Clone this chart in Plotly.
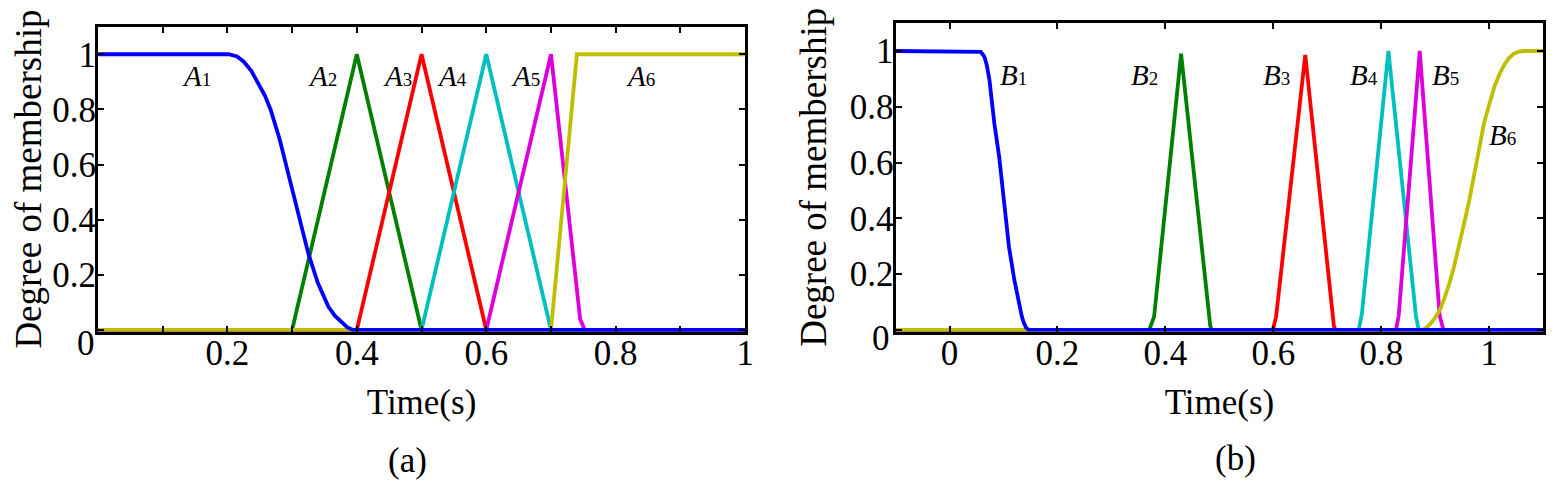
import plotly.graph_objects as go

# ---------------- data: panel (a) ----------------
A1_t = [0.0, 0.202, 0.215, 0.225, 0.237, 0.248, 0.258, 0.267, 0.281, 0.294, 0.310, 0.325, 0.340, 0.356, 0.366, 0.375, 0.385, 0.394, 1.0]
A1_v = [1.0, 1.0, 0.992, 0.974, 0.94, 0.895, 0.85, 0.798, 0.69, 0.568, 0.411, 0.278, 0.169, 0.085, 0.052, 0.030, 0.010, 0.0, 0.0]
A2_t = [0.0, 0.3, 0.4, 0.5, 1.0]
A2_v = [0.0, 0.0, 1.0, 0.0, 0.0]
A3_t = [0.0, 0.4, 0.5, 0.6, 1.0]
A3_v = [0.0, 0.0, 1.0, 0.0, 0.0]
A4_t = [0.0, 0.5, 0.6, 0.7, 1.0]
A4_v = [0.0, 0.0, 1.0, 0.0, 0.0]
A5_t = [0.0, 0.6, 0.7, 0.745, 0.752, 1.0]
A5_v = [0.0, 0.0, 1.0, 0.04, 0.0, 0.0]
A6_t = [0.0, 0.7, 0.74, 1.0]
A6_v = [0.0, 0.0, 1.0, 1.0]

# ---------------- data: panel (b) ----------------
B1_t = [-0.1, 0.052, 0.058, 0.0645, 0.069, 0.074, 0.083, 0.092, 0.101, 0.110, 0.120, 0.129, 0.134, 0.138, 0.142, 0.147, 1.1]
B1_v = [1.0, 1.0, 0.997, 0.98, 0.95, 0.896, 0.741, 0.621, 0.466, 0.30, 0.18, 0.084, 0.048, 0.024, 0.008, 0.0, 0.0]
B2_t = [-0.1, 0.370, 0.379, 0.384, 0.429, 0.483, 0.486, 1.1]
B2_v = [0.0, 0.0, 0.048, 0.143, 0.99, 0.014, 0.0, 0.0]
B3_t = [-0.1, 0.599, 0.605, 0.659, 0.712, 0.715, 1.1]
B3_v = [0.0, 0.0, 0.048, 0.986, 0.014, 0.0, 0.0]
B4_t = [-0.1, 0.758, 0.764, 0.813, 0.864, 0.869, 1.1]
B4_v = [0.0, 0.0, 0.06, 1.0, 0.05, 0.0, 0.0]
B5_t = [-0.1, 0.827, 0.832, 0.871, 0.908, 0.915, 1.1]
B5_v = [0.0, 0.0, 0.05, 1.0, 0.05, 0.0, 0.0]
B6_t = [-0.1, 0.875, 0.882, 0.889, 0.898, 0.908, 0.917, 0.926, 0.935, 0.944, 0.953, 0.963, 0.972, 0.981, 0.990, 1.0, 1.009, 1.018, 1.027, 1.036, 1.045, 1.055, 1.064, 1.1]
B6_v = [0.0, 0.0, 0.006, 0.018, 0.04, 0.07, 0.115, 0.167, 0.23, 0.30, 0.38, 0.466, 0.56, 0.657, 0.74, 0.81, 0.87, 0.914, 0.948, 0.974, 0.99, 0.998, 1.0, 1.0]

# tick labels
a_xticks = [0.0, 0.1, 0.2, 0.3, 0.4, 0.5, 0.6, 0.7, 0.8, 0.9, 1.0]
a_xtext = ["", "", "0.2", "", "0.4", "", "0.6", "", "0.8", "", "1"]
b_xticks = [0.0, 0.2, 0.4, 0.6, 0.8, 1.0]
b_xtext = ["0", "0.2", "0.4", "0.6", "0.8", "1"]
yticks = [0.0, 0.2, 0.4, 0.6, 0.8, 1.0]
y_text = ["", "0.2", "0.4", "0.6", "0.8", "1"]
zero_label = "0"

# curve labels (letter, index, x, y)
a_labels = [("A", "1", 0.153, 0.92), ("A", "2", 0.347, 0.92), ("A", "3", 0.463, 0.92),
            ("A", "4", 0.547, 0.92), ("A", "5", 0.661, 0.92), ("A", "6", 0.838, 0.92)]
b_labels = [("B", "1", 0.118, 0.915), ("B", "2", 0.361, 0.915), ("B", "3", 0.605, 0.915),
            ("B", "4", 0.768, 0.915), ("B", "5", 0.919, 0.915), ("B", "6", 1.024, 0.70)]

BLUE, GREEN, RED, CYAN, MAG, OLIVE = "#0000FF", "#008000", "#FF0000", "#00BFBF", "#DD00DD", "#BFBF00"
FONT = "Liberation Serif"
LW = 3.8

# the page body adds an 8 px margin, so the figure is 8 px smaller than the window
OFF = 8
W, H = 1560 - OFF, 487 - OFF


def px(x):
    return (x - OFF) / W


def py(y):
    return 1 - (y - OFF) / H


fig = go.Figure()

a_series = [(A2_t, A2_v, GREEN, "A2"), (A3_t, A3_v, RED, "A3"), (A4_t, A4_v, CYAN, "A4"),
            (A5_t, A5_v, MAG, "A5"), (A6_t, A6_v, OLIVE, "A6"), (A1_t, A1_v, BLUE, "A1")]
for t, v, c, n in a_series:
    fig.add_trace(go.Scatter(x=t, y=v, mode="lines", line=dict(color=c, width=LW),
                             name=n, xaxis="x", yaxis="y", showlegend=False))

b_series = [(B2_t, B2_v, GREEN, "B2"), (B3_t, B3_v, RED, "B3"), (B4_t, B4_v, CYAN, "B4"),
            (B5_t, B5_v, MAG, "B5"), (B6_t, B6_v, OLIVE, "B6"), (B1_t, B1_v, BLUE, "B1")]
for t, v, c, n in b_series:
    fig.add_trace(go.Scatter(x=t, y=v, mode="lines", line=dict(color=c, width=LW),
                             name=n, xaxis="x2", yaxis="y2", showlegend=False))

tickfont = dict(family=FONT, size=35, color="black")
titlefont = dict(family=FONT, size=35, color="black")
ytitlefont = dict(family=FONT, size=37, color="black")

common_axis = dict(showline=True, linecolor="black", linewidth=3, mirror="ticks",
                   ticks="inside", ticklen=6, tickwidth=2, tickcolor="black",
                   showgrid=False, zeroline=False, tickfont=tickfont, tickmode="array")

fig.update_layout(
    width=W, height=H,
    margin=dict(l=0, r=0, t=0, b=0),
    paper_bgcolor="white", plot_bgcolor="white",
    xaxis=dict(domain=[px(98.4), px(749.5)], range=[0, 1], tickvals=a_xticks, ticktext=a_xtext,
               anchor="y", ticklabelstandoff=-12,
               title=dict(text="Time(s)", font=titlefont, standoff=18), **common_axis),
    yaxis=dict(domain=[py(331.5), py(26.7)], range=[-0.0055, 1.1], tickvals=yticks,
               ticktext=y_text, anchor="x", ticklabelstandoff=-8,
               title=dict(text="Degree of membership", font=ytitlefont, standoff=12), **common_axis),
    xaxis2=dict(domain=[px(900.7), px(1552.3)], range=[-0.1, 1.1], tickvals=b_xticks, ticktext=b_xtext,
                anchor="y2", ticklabelstandoff=-12,
                title=dict(text="Time(s)", font=titlefont, standoff=18), **common_axis),
    yaxis2=dict(domain=[py(331.5), py(23.1)], range=[-0.0055, 1.1], tickvals=yticks,
                ticktext=y_text, anchor="x2", ticklabelstandoff=-8,
                title=dict(text="Degree of membership", font=ytitlefont, standoff=12), **common_axis),
)

ann = []
for letter, idx, x, y in a_labels:
    ann.append(dict(x=x, y=y, xref="x", yref="y", showarrow=False, xanchor="center", yanchor="middle",
                    text=f"<i>{letter}</i><span style='font-size:19px'>{idx}</span>",
                    font=dict(family=FONT, size=29, color="black")))
for letter, idx, x, y in b_labels:
    ann.append(dict(x=x, y=y, xref="x2", yref="y2", showarrow=False, xanchor="center", yanchor="middle",
                    text=f"<i>{letter}</i><span style='font-size:19px'>{idx}</span>",
                    font=dict(family=FONT, size=29, color="black")))
# zero labels of the y axes (sit slightly below the axis corner)
ann.append(dict(x=px(86.5), y=py(343), xref="paper", yref="paper", showarrow=False,
                xanchor="center", yanchor="middle", text=zero_label, font=tickfont))
ann.append(dict(x=px(886.5), y=py(338), xref="paper", yref="paper", showarrow=False,
                xanchor="center", yanchor="middle", text=zero_label, font=tickfont))
# captions
ann.append(dict(x=px(409.5), y=py(460), xref="paper", yref="paper", showarrow=False,
                xanchor="center", yanchor="middle",
                text="(a)", font=dict(family=FONT, size=35, color="black")))
ann.append(dict(x=px(1242.5), y=py(458), xref="paper", yref="paper", showarrow=False,
                xanchor="center", yanchor="middle",
                text="(b)", font=dict(family=FONT, size=35, color="black")))
fig.update_layout(annotations=ann)

fig.write_html("out.html")
